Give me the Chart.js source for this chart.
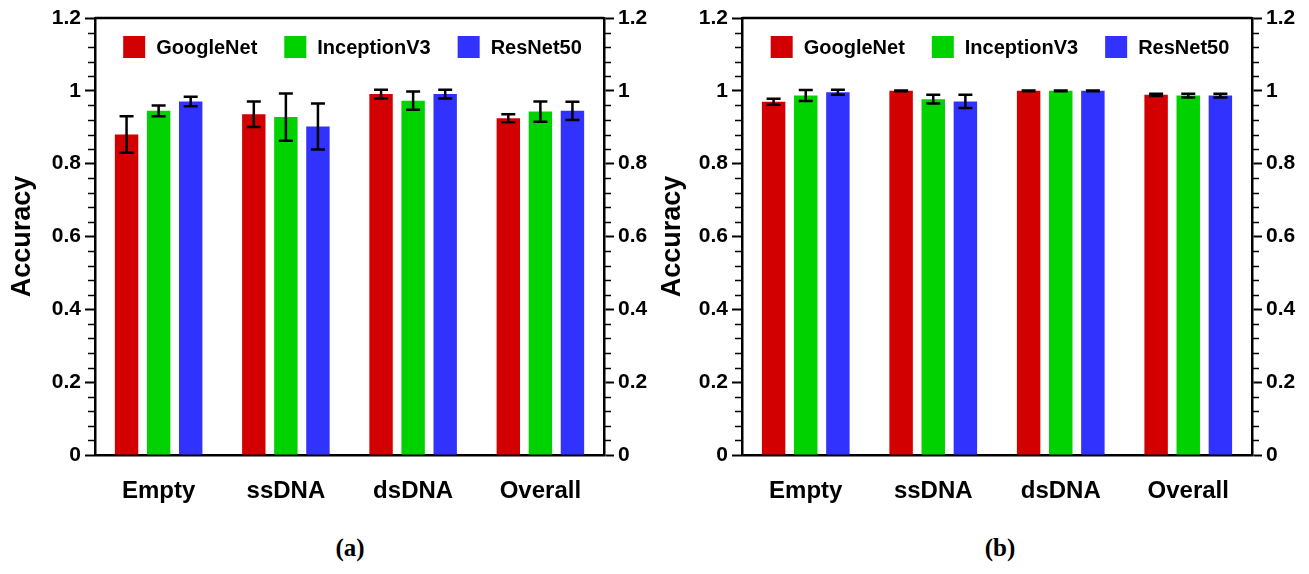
<!DOCTYPE html>
<html>
<head>
<meta charset="utf-8">
<script src="https://cdn.jsdelivr.net/npm/chart.js@4.4.1/dist/chart.umd.min.js"></script>
<style>
  body { margin: 0; background: #fff; }
  .panel { position: absolute; top: 0; height: 515px; }
  .caption { position: absolute; top: 534px; width: 100px; text-align: center;
             font: bold 25px "Liberation Serif", "Times New Roman", serif; color: #000; }
</style>
</head>
<body>
<div class="panel" style="left:0; width:654px;"><canvas id="chartA" width="654" height="515"></canvas></div>
<div class="panel" style="left:654px; width:655px;"><canvas id="chartB" width="655" height="515"></canvas></div>
<div class="caption" style="left:300px;">(a)</div>
<div class="caption" style="left:950px;">(b)</div>
<script>
// categories and models
const categories = ['Empty', 'ssDNA', 'dsDNA', 'Overall'];
const models = ['GoogleNet', 'InceptionV3', 'ResNet50'];
const colors = ['rgb(210,0,0)', 'rgb(0,210,0)', 'rgb(50,50,255)'];

// panel (a): mean accuracy and error (+/-)
const accA_google = [0.880, 0.936, 0.991, 0.925];
const errA_google = [0.050, 0.035, 0.012, 0.011];
const accA_inception = [0.945, 0.928, 0.973, 0.943];
const errA_inception = [0.015, 0.065, 0.025, 0.028];
const accA_resnet = [0.971, 0.902, 0.991, 0.945];
const errA_resnet = [0.013, 0.063, 0.012, 0.025];

// panel (b)
const accB_google = [0.970, 1.000, 1.000, 0.989];
const errB_google = [0.008, 0.001, 0.001, 0.003];
const accB_inception = [0.987, 0.977, 1.000, 0.987];
const errB_inception = [0.015, 0.012, 0.001, 0.005];
const accB_resnet = [0.996, 0.971, 1.000, 0.987];
const errB_resnet = [0.007, 0.018, 0.001, 0.005];

const yTicks = [0, 0.2, 0.4, 0.6, 0.8, 1, 1.2];
const yTickLabels = ['0', '0.2', '0.4', '0.6', '0.8', '1', '1.2'];
const minorStep = 0.04;

const tickFont = { family: '"Liberation Sans", Arial, sans-serif', size: 21, weight: 'bold' };

// draws error bars, minor ticks, the top frame line and the legend inside the plot
const extrasPlugin = {
  id: 'extras',
  afterDatasetsDraw(chart) {
    const ctx = chart.ctx;
    const y = chart.scales.y;
    ctx.save();
    ctx.strokeStyle = '#000';
    ctx.lineWidth = 2.5;
    chart.data.datasets.forEach((ds, i) => {
      const meta = chart.getDatasetMeta(i);
      meta.data.forEach((bar, j) => {
        const v = ds.data[j], e = ds.errors[j];
        const yt = y.getPixelForValue(v + e);
        const yb = y.getPixelForValue(v - e);
        const cap = 7;
        ctx.beginPath();
        ctx.moveTo(bar.x, yt); ctx.lineTo(bar.x, yb);
        ctx.moveTo(bar.x - cap, yt); ctx.lineTo(bar.x + cap, yt);
        ctx.moveTo(bar.x - cap, yb); ctx.lineTo(bar.x + cap, yb);
        ctx.stroke();
      });
    });
    ctx.restore();
  },
  afterDraw(chart) {
    const ctx = chart.ctx;
    const area = chart.chartArea;
    const y = chart.scales.y;
    ctx.save();
    ctx.strokeStyle = '#000';
    // top frame
    ctx.lineWidth = 2.5;
    ctx.beginPath();
    ctx.moveTo(area.left, area.top);
    ctx.lineTo(area.right, area.top);
    ctx.stroke();
    // minor ticks
    ctx.lineWidth = 1.5;
    for (let k = 1; k < 30; k++) {
      if (k % 5 === 0) continue;
      const py = Math.round(y.getPixelForValue(k * minorStep)) + 0.5;
      ctx.beginPath();
      ctx.moveTo(area.left - 7, py); ctx.lineTo(area.left, py);
      ctx.moveTo(area.right, py); ctx.lineTo(area.right + 7, py);
      ctx.stroke();
    }
    // legend
    ctx.font = 'bold 20px "Liberation Sans", Arial, sans-serif';
    ctx.textBaseline = 'middle';
    const box = 22, gap = 11, itemGap = 27;
    const items = chart.data.datasets.map(ds => ({ label: ds.label, color: ds.backgroundColor, w: ctx.measureText(ds.label).width }));
    const total = items.reduce((s, it) => s + box + gap + it.w, 0) + itemGap * (items.length - 1);
    let x = (area.left + area.right) / 2 + 3 - total / 2;
    const top = area.top + 18;
    items.forEach(it => {
      ctx.fillStyle = it.color;
      ctx.fillRect(x, top, box, box);
      ctx.fillStyle = '#000';
      ctx.fillText(it.label, x + box + gap, top + box / 2 + 1);
      x += box + gap + it.w + itemGap;
    });
    ctx.restore();
  }
};

function makeChart(id, series, errors, leftW, rightW, titlePad) {
  const datasets = models.map((m, i) => ({
    label: m,
    data: series[i],
    errors: errors[i],
    backgroundColor: colors[i],
    borderWidth: 0,
    categoryPercentage: 0.756,
    barPercentage: 0.73,
    yAxisID: 'y'
  }));
  const yAxis = (pos, width) => ({
    type: 'linear',
    position: pos,
    min: 0,
    max: 1.2,
    afterBuildTicks: scale => { scale.ticks = yTicks.map(v => ({ value: v })); },
    afterFit: scale => { scale.width = width; },
    ticks: {
      font: tickFont, color: '#000', padding: 4,
      callback: (value, index) => yTickLabels[index]
    },
    grid: { drawOnChartArea: false, drawTicks: true, tickLength: 10, tickWidth: 2, tickColor: '#000' },
    border: { display: true, color: '#000', width: 2.5 }
  });
  const left = yAxis('left', leftW);
  left.title = {
    display: true, text: 'Accuracy', color: '#000',
    font: { family: '"Liberation Sans", Arial, sans-serif', size: 27, weight: 'bold' },
    padding: { top: titlePad, bottom: 0 }
  };
  return new Chart(document.getElementById(id), {
    type: 'bar',
    data: { labels: categories, datasets },
    options: {
      responsive: false,
      animation: false,
      layout: { padding: { top: 18, left: 0, right: 0, bottom: 0 } },
      plugins: { legend: { display: false }, tooltip: { enabled: false } },
      scales: {
        x: {
          afterFit: scale => { scale.height = 60; },
          ticks: { font: { family: '"Liberation Sans", Arial, sans-serif', size: 24, weight: 'bold' }, color: '#000', padding: 14 },
          grid: { display: false },
          border: { display: true, color: '#000', width: 2.5 }
        },
        y: left,
        y2: yAxis('right', rightW)
      }
    },
    plugins: [extrasPlugin]
  });
}

makeChart('chartA',
  [accA_google, accA_inception, accA_resnet],
  [errA_google, errA_inception, errA_resnet],
  95, 50, 6);
makeChart('chartB',
  [accB_google, accB_inception, accB_resnet],
  [errB_google, errB_inception, errB_resnet],
  88, 57, 2);
</script>
</body>
</html>
